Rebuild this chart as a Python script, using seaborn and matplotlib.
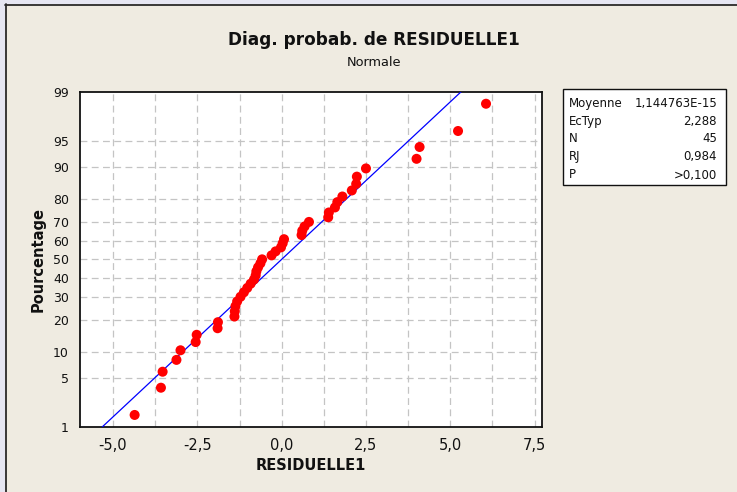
import numpy as np
import pandas as pd
import matplotlib
matplotlib.use("Agg")
import matplotlib.pyplot as plt
from matplotlib.patches import Rectangle
from matplotlib.lines import Line2D
import seaborn as sns
from statistics import NormalDist

# ---- data (sorted residuals) ----
residuals = [-4.36, -3.58, -3.53, -3.12, -3.00, -2.55, -2.52, -1.90, -1.89,
             -1.40, -1.39, -1.37, -1.32, -1.22, -1.12, -1.02, -0.92, -0.82,
             -0.77, -0.75, -0.70, -0.63, -0.58, -0.30, -0.18, -0.02, 0.03,
             0.07, 0.59, 0.61, 0.68, 0.81, 1.38, 1.40, 1.58, 1.65, 1.80,
             2.08, 2.21, 2.23, 2.50, 4.00, 4.09, 5.23, 6.06]
fit_mean = 0.0
fit_sd = 2.288
stat_labels = ["Moyenne", "EcTyp", "N", "RJ", "P"]
stat_values = ["1,144763E-15", "2,288", "45", "0,984", ">0,100"]
x_ticks = [-5.0, -2.5, 0.0, 2.5, 5.0, 7.5]
x_ticklabels = ["-5,0", "-2,5", "0,0", "2,5", "5,0", "7,5"]
x_grid = [-5.0, -3.75, -2.5, -1.25, 0.0, 1.25, 2.5, 3.75, 5.0, 6.25, 7.5]
y_pcts = [1, 5, 10, 20, 30, 40, 50, 60, 70, 80, 90, 95, 99]
y_ticklabels = ["1", "5", "10", "20", "30", "40", "50", "60", "70", "80", "90", "95", "99"]

nd = NormalDist()
n = len(residuals)
ranks = np.arange(1, n + 1)
probs = (ranks - 0.3) / (n + 0.4)          # Minitab median ranks (Benard)
df = pd.DataFrame({"x": np.sort(residuals), "z": [nd.inv_cdf(p) for p in probs]})

z_lo, z_hi = nd.inv_cdf(0.01), nd.inv_cdf(0.99)
fit = pd.DataFrame({"z": [z_lo, z_hi]})
fit["x"] = fit_mean + fit_sd * fit["z"]

BG = "#EFEBE1"
sns.set_theme(style="white")
plt.rcParams["font.family"] = ["DejaVu Sans"]

W, H = 737, 492
fig = plt.figure(figsize=(W / 100, H / 100), dpi=100, facecolor=BG)

# window frame
fig.patches.append(Rectangle((0, 0), 5 / W, 1, transform=fig.transFigure,
                             facecolor="#E6E6F2", edgecolor="none", zorder=0))
fig.patches.append(Rectangle((0, 1 - 4 / H), 1, 4 / H, transform=fig.transFigure,
                             facecolor="#E6E6F2", edgecolor="none", zorder=0))
fig.lines.append(Line2D([5.5 / W, 5.5 / W], [0, 1 - 4 / H], transform=fig.transFigure,
                        color="#2a2a2a", lw=1.3))
fig.lines.append(Line2D([5 / W, 1], [1 - 4.8 / H, 1 - 4.8 / H], transform=fig.transFigure,
                        color="#2a2a2a", lw=1.3))

L, R, T, B = 80, 542, 91.7, 427
ax = fig.add_axes([L / W, 1 - B / H, (R - L) / W, (B - T) / H])
ax.set_facecolor("white")

sns.lineplot(data=fit, x="x", y="z", ax=ax, color="#0000FF", lw=0.9,
             sort=False, estimator=None, zorder=3)
sns.scatterplot(data=df, x="x", y="z", ax=ax, color="#FF0000", s=52,
                edgecolor="none", linewidth=0, zorder=4)

ax.set_xlim(-5.98, 7.72)
ax.set_ylim(z_lo, z_hi)

# grid
for gx in x_grid:
    ax.axvline(gx, color="#C4C4C4", lw=0.9, ls=(0, (5.5, 3.5)), zorder=1)
for p in y_pcts[1:-1]:
    ax.axhline(nd.inv_cdf(p / 100), color="#C4C4C4", lw=0.9, ls=(0, (5.5, 3.5)), zorder=1)

ax.set_xticks(x_ticks)
ax.set_xticklabels(x_ticklabels)
ax.set_yticks([nd.inv_cdf(p / 100) for p in y_pcts])
ax.set_yticklabels(y_ticklabels)
ax.tick_params(axis="x", direction="out", length=5, width=1, color="black",
               labelsize=10.5, pad=3, labelcolor="#111111")
ax.tick_params(axis="y", direction="out", length=5, width=1, color="black",
               labelsize=9, pad=3, labelcolor="#111111")
for sp in ax.spines.values():
    sp.set_visible(True)
    sp.set_color("#111111")
    sp.set_linewidth(1.3)

ax.set_xlabel("RESIDUELLE1", fontsize=10.5, fontweight="bold", color="#111111")
ax.set_ylabel("Pourcentage", fontsize=10.5, fontweight="bold", color="#111111")
ax.xaxis.set_label_coords(0.5, (B - 466) / (B - T))
ax.xaxis.label.set_va("center")
ax.yaxis.set_label_coords((38 - L) / (R - L), 0.5)
ax.yaxis.label.set_va("center")

# titles
fig.text(374 / W, 1 - 40 / H, "Diag. probab. de RESIDUELLE1", ha="center", va="center",
         fontsize=12.2, fontweight="bold", color="#111111")
fig.text(374 / W, 1 - 62 / H, "Normale", ha="center", va="center",
         fontsize=9.3, color="#111111")

# statistics box
bx0, bx1, by0, by1 = 562.7, 725.7, 89, 185
fig.patches.append(Rectangle((bx0 / W, 1 - by1 / H), (bx1 - bx0) / W, (by1 - by0) / H,
                             transform=fig.transFigure, facecolor="white",
                             edgecolor="#111111", lw=1.0, zorder=2))
row_y = [103.3, 121, 138.6, 156.7, 175]
for lab, val, yy in zip(stat_labels, stat_values, row_y):
    fig.text(569 / W, 1 - yy / H, lab, ha="left", va="center", fontsize=8.5,
             color="#111111", zorder=3)
    fig.text(717 / W, 1 - yy / H, val, ha="right", va="center", fontsize=8.5,
             color="#111111", zorder=3)

fig.savefig("out.png", dpi=100, facecolor=BG)
